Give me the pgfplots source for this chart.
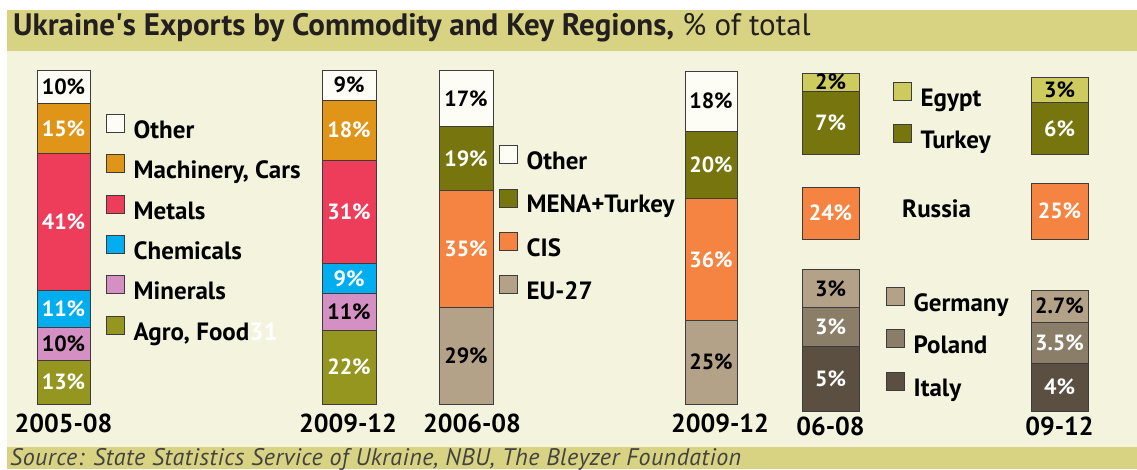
\documentclass[border=0pt]{standalone}
\usepackage{fontspec}
\setmainfont{PT Sans}
\usepackage{pgfplots}
\pgfplotsset{compat=1.18}

\definecolor{cream}{HTML}{F4F3DD}
\definecolor{khaki}{HTML}{D8D382}
\definecolor{ink}{HTML}{231F20}
\definecolor{edge}{HTML}{3C3C3C}
\definecolor{cOther}{HTML}{FDFDF6}
\definecolor{cMach}{HTML}{E09418}
\definecolor{cMetal}{HTML}{EE3D5A}
\definecolor{cChem}{HTML}{00AEEF}
\definecolor{cMin}{HTML}{D490C2}
\definecolor{cAgro}{HTML}{959620}
\definecolor{cMena}{HTML}{77760E}
\definecolor{cCis}{HTML}{F58442}
\definecolor{cEu}{HTML}{B3A188}
\definecolor{cEgypt}{HTML}{CDCB5E}
\definecolor{cGer}{HTML}{B3A188}
\definecolor{cPol}{HTML}{8B7E68}
\definecolor{cIta}{HTML}{5B4F42}

\newcommand\titlefont{\fontsize{31}{33}\selectfont}
\newcommand\legfont{\fontsize{25}{28}\selectfont\bfseries}
\newcommand\barfont{\fontsize{22}{24}\selectfont\bfseries}
\newcommand\yearfont{\fontsize{26}{28}\selectfont\bfseries}
\newcommand\srcfont{\fontsize{24}{26}\selectfont\itshape\addfontfeatures{LetterSpace=2}}

% segment: colour, value, label colour
\newcommand\seg[3]{\addplot[fill=#1, draw=edge, line width=0.7pt,
  nodes near coords={\barfont #2\%},
  every node near coord/.append style={anchor=center, text=#3, inner sep=0pt}]
  coordinates {(0,#2)};}

\pgfplotsset{
  barax/.style={scale only axis, ybar stacked, xmin=-0.5, xmax=0.5, ymin=0,
    enlargelimits=false, clip=false,
    axis line style={draw=none}, tick style={draw=none}, major tick length=0pt,
    ytick=\empty, xtick=\empty,
    xticklabel style={font=\yearfont, anchor=base, text=black, inner sep=0pt},
    legend image code/.code={\draw[##1, draw=edge, line width=0.7pt] (0pt,-0.5pt) rectangle (18pt,17.5pt);},
    legend style={draw=none, fill=none, inner sep=0pt, outer sep=0pt, font=\legfont,
      column sep=9pt, nodes={inner sep=0pt, text height=18pt, text depth=5pt}, anchor=north west},
    legend cell align=left, reverse legend,
  }
}

\begin{document}
\begin{tikzpicture}[x=1pt,y=1pt]
\fill[white] (0,0) rectangle (1137,-469);
\fill[cream] (7,-51) rectangle (1137,-447);
\fill[khaki] (7,-10) rectangle (1137,-51);
\fill[khaki] (7,-447) rectangle (1137,-469);
\node[anchor=base west, inner sep=0pt, text=ink] at (13,-35)
  {\titlefont\textbf{Ukraine\textquotesingle s Exports by Commodity and Key Regions,} \% of total};
\node[anchor=base west, inner sep=0pt, text=ink!85] at (10,-465)
  {\srcfont Source: State Statistics Service of Ukraine, NBU, The Bleyzer Foundation};

% ---- commodities 2005-08
\begin{axis}[barax, at={(37pt,-404pt)}, anchor=south west, width=53pt, height=334pt, bar width=53pt, ymax=100,
  xtick={0}, xticklabels={2005-08}, xticklabel style={yshift=-28pt},
  legend style={at={(axis description cs:1.302,0.868)}, row sep=11pt}]
\seg{cAgro}{13}{white}
\seg{cMin}{10}{black}
\seg{cChem}{11}{white}
\seg{cMetal}{41}{white}
\seg{cMach}{15}{white}
\seg{cOther}{10}{black}
\legend{{Agro, Food\textcolor{white}{31}}, Minerals, Chemicals, Metals, {Machinery, Cars}, Other}
\end{axis}

% ---- commodities 2009-12
\begin{axis}[barax, at={(322pt,-404pt)}, anchor=south west, width=54pt, height=334pt, bar width=54pt, ymax=100,
  xtick={0}, xticklabels={2009-12}, xticklabel style={yshift=-28pt, xshift=-1pt}]
\seg{cAgro}{22}{white}
\seg{cMin}{11}{black}
\seg{cChem}{9}{white}
\seg{cMetal}{31}{white}
\seg{cMach}{18}{white}
\seg{cOther}{9}{black}
\end{axis}

% ---- regions 2006-08
\begin{axis}[barax, at={(439pt,-404pt)}, anchor=south west, width=54pt, height=334pt, bar width=54pt, ymax=100,
  xtick={0}, xticklabels={2006-08}, xticklabel style={yshift=-28pt, xshift=6pt},
  legend style={at={(axis description cs:1.111,0.775)}, row sep=14pt}]
\seg{cEu}{29}{black}
\seg{cCis}{35}{white}
\seg{cMena}{19}{white}
\seg{cOther}{17}{black}
\legend{EU-27, CIS, MENA+Turkey, Other}
\end{axis}

% ---- regions 2009-12
\begin{axis}[barax, at={(685pt,-404pt)}, anchor=south west, width=52pt, height=333pt, bar width=52pt, ymax=99,
  xtick={0}, xticklabels={2009-12}, xticklabel style={yshift=-28pt, xshift=9pt}]
\seg{cEu}{25}{black}
\seg{cCis}{36}{white}
\seg{cMena}{20}{white}
\seg{cOther}{18}{black}
\end{axis}

% ---- Egypt / Turkey
\begin{axis}[barax, at={(802pt,-154pt)}, anchor=south west, width=57pt, height=81pt, bar width=57pt, ymax=9,
  legend style={at={(axis description cs:1.596,0.888)}, row sep=13pt}]
\seg{cMena}{7}{white}
\seg{cEgypt}{2}{black}
\legend{Turkey, Egypt}
\end{axis}
\begin{axis}[barax, at={(1031pt,-154pt)}, anchor=south west, width=57pt, height=77pt, bar width=57pt, ymax=9]
\seg{cMena}{6}{white}
\seg{cEgypt}{3}{black}
\end{axis}

% ---- Russia
\begin{axis}[barax, at={(802pt,-239pt)}, anchor=south west, width=57pt, height=52pt, bar width=57pt, ymax=24]
\seg{cCis}{24}{white}
\end{axis}
\begin{axis}[barax, at={(1031pt,-239pt)}, anchor=south west, width=57pt, height=56pt, bar width=57pt, ymax=25]
\seg{cCis}{25}{white}
\end{axis}
\node[anchor=base west, inner sep=0pt, font=\legfont] at (902,-217) {Russia};

% ---- Germany / Poland / Italy
\begin{axis}[barax, at={(802pt,-411pt)}, anchor=south west, width=57pt, height=142pt, bar width=57pt, ymax=11,
  xtick={0}, xticklabels={06-08}, xticklabel style={yshift=-24pt},
  legend style={at={(axis description cs:1.474,0.873)}, row sep=13pt}]
\seg{cIta}{5}{white}
\seg{cPol}{3}{white}
\seg{cGer}{3}{black}
\legend{Italy, Poland, Germany}
\end{axis}
\begin{axis}[barax, at={(1031pt,-411pt)}, anchor=south west, width=57pt, height=121pt, bar width=57pt, ymax=10.2,
  xtick={0}, xticklabels={09-12}, xticklabel style={yshift=-24pt}]
\seg{cIta}{4}{white}
\seg{cPol}{3.5}{white}
\seg{cGer}{2.7}{black}
\end{axis}
\end{tikzpicture}
\end{document}
